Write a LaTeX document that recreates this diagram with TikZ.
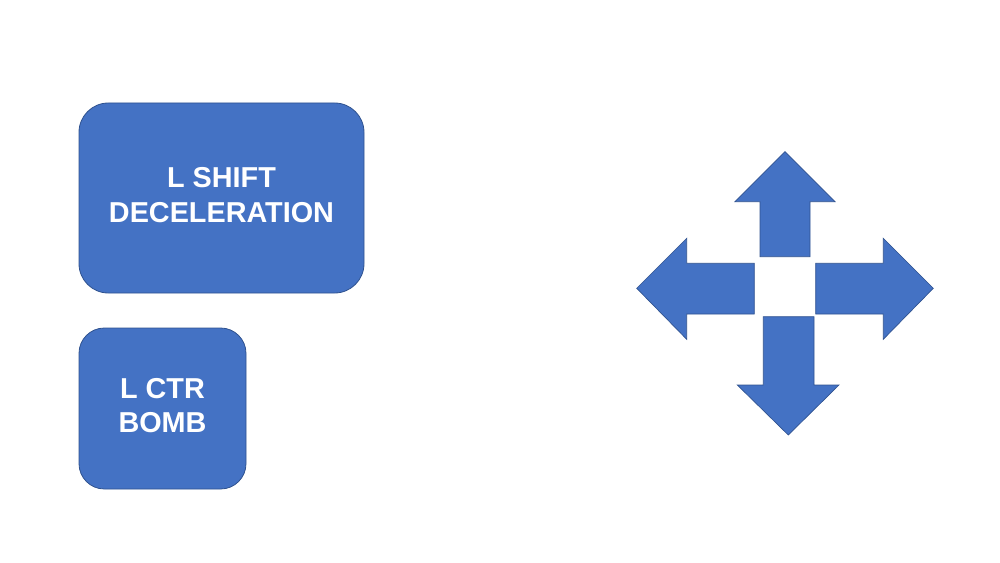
\documentclass[tikz,border=0pt]{standalone}
\usepackage{fontspec}
\setmainfont{Liberation Sans}
\definecolor{boxblue}{HTML}{4472C4}
\definecolor{edgeblue}{HTML}{2F528F}
\begin{document}
\begin{tikzpicture}[x=0.75pt,y=-0.75pt,
  keybox/.style={draw=edgeblue,line width=0.6pt,fill=boxblue,text=white,
    rounded corners=22pt,align=center,inner sep=0pt,
    font=\bfseries\fontsize{21.6}{26}\selectfont},
  arrowshape/.style={draw=edgeblue,line width=0.5pt,fill=boxblue}]
\useasboundingbox (0,0) rectangle (1000,563);
\node[keybox,minimum width=213.75pt,minimum height=142.5pt] (shift) at (221.5,198) {\raisebox{1pt}{\begin{tabular}{@{}c@{}}L SHIFT\\DECELERATION\end{tabular}}};
\node[keybox,rounded corners=19pt,minimum width=125.25pt,minimum height=120.75pt] (ctr) at (162.5,408.5) {\raisebox{-1pt}{\begin{tabular}{@{}c@{}}L CTR\\BOMB\end{tabular}}};
% up arrow
\draw[arrowshape] (785,151.7) -- (835,201.7) -- (810,201.7) -- (810,256.7) -- (760,256.7) -- (760,201.7) -- (735,201.7) -- cycle;
% left arrow
\draw[arrowshape] (636.7,288.3) -- (686.7,238.3) -- (686.7,263.3) -- (754.3,263.3) -- (754.3,314) -- (686.7,314) -- (686.7,339.3) -- cycle;
% right arrow
\draw[arrowshape] (933.3,288.3) -- (883.3,238.3) -- (883.3,263.3) -- (815.7,263.3) -- (815.7,314) -- (883.3,314) -- (883.3,339.3) -- cycle;
% down arrow
\draw[arrowshape] (788.3,435) -- (839,385) -- (814,385) -- (814,316.7) -- (763.3,316.7) -- (763.3,385) -- (737.3,385) -- cycle;
\end{tikzpicture}
\end{document}
